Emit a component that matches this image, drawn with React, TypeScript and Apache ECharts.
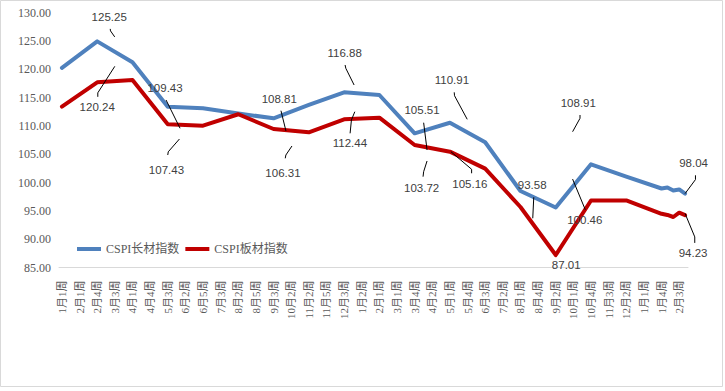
import React, { useEffect, useRef } from "react";
import * as echarts from "echarts";

// weekly categories (labels shown every 3rd week)
const weeks: string[] = [
  "1月1周", "1月2周", "1月3周", "2月1周", "2月2周", "2月3周", "2月4周", "3月1周", "3月2周", "3月3周",
  "3月4周", "3月5周", "4月1周", "4月2周", "4月3周", "4月4周", "5月1周", "5月2周", "5月3周", "5月4周",
  "6月1周", "6月2周", "6月3周", "6月4周", "6月5周", "7月1周", "7月2周", "7月3周", "7月4周", "8月1周",
  "8月2周", "8月3周", "8月4周", "8月5周", "9月1周", "9月2周", "9月3周", "9月4周", "10月1周", "10月2周",
  "10月3周", "11月1周", "11月2周", "11月3周", "11月4周", "11月5周", "12月1周", "12月2周", "12月3周", "12月4周",
  "1月1周", "1月2周", "1月3周", "1月4周", "2月1周", "2月2周", "2月3周", "3月1周", "3月2周", "3月3周",
  "3月4周", "3月5周", "4月1周", "4月2周", "4月3周", "4月4周", "5月1周", "5月2周", "5月3周", "5月4周",
  "6月1周", "6月2周", "6月3周", "6月4周", "7月1周", "7月2周", "7月3周", "7月4周", "8月1周", "8月2周",
  "8月3周", "8月4周", "8月5周", "9月1周", "9月2周", "9月3周", "9月4周", "10月1周", "10月2周", "10月3周",
  "10月4周", "11月1周", "11月2周", "11月3周", "11月4周", "12月1周", "12月2周", "12月3周", "12月4周", "1月1周",
  "1月2周", "1月3周", "1月4周", "2月1周", "2月2周", "2月3周", "2月4周",
];

// [week index, value]
const longSteel: [number, number][] = [
  [0, 120.24], [6, 124.9], [12, 121.21], [18, 113.38], [24, 113.1], [30, 112.18],
  [36, 111.33], [42, 113.68], [48, 115.92], [54, 115.44], [60, 108.68], [66, 110.55],
  [72, 107.1], [78, 98.5], [84, 95.59], [90, 103.21], [96, 101.03], [102, 98.94],
  [103, 99.12], [104, 98.59], [105, 98.77], [106, 98.04],
];

const plateSteel: [number, number][] = [
  [0, 113.38], [6, 117.68], [12, 118.09], [18, 110.27], [24, 110.02], [30, 112.04],
  [36, 109.44], [42, 108.86], [48, 111.15], [54, 111.44], [60, 106.62], [66, 105.44],
  [72, 102.44], [78, 95.68], [84, 87.2], [90, 96.83], [96, 96.83], [102, 94.48],
  [103, 94.27], [104, 93.91], [105, 94.67], [106, 94.23],
];

const seriesNames = ["CSPI长材指数", "CSPI板材指数"];
const yMin = 85;
const yMax = 130;
const yStep = 5;

// annotation texts attached to a vertex (series, week index)
const annotationTexts: { s: number; at: number; text: string }[] = [
  { s: 0, at: 6, text: "125.25" },
  { s: 1, at: 6, text: "120.24" },
  { s: 0, at: 18, text: "109.43" },
  { s: 1, at: 18, text: "107.43" },
  { s: 0, at: 36, text: "108.81" },
  { s: 1, at: 36, text: "106.31" },
  { s: 0, at: 48, text: "116.88" },
  { s: 1, at: 48, text: "112.44" },
  { s: 0, at: 60, text: "105.51" },
  { s: 1, at: 60, text: "103.72" },
  { s: 0, at: 66, text: "110.91" },
  { s: 1, at: 66, text: "105.16" },
  { s: 1, at: 78, text: "93.58" },
  { s: 1, at: 84, text: "87.01" },
  { s: 0, at: 90, text: "108.91" },
  { s: 1, at: 90, text: "100.46" },
  { s: 0, at: 106, text: "98.04" },
  { s: 1, at: 106, text: "94.23" },
];

// label offsets and leader lines (pixels, relative to the vertex), same order
const annotationLayout: { d: [number, number]; line?: [number, number][] }[] = [
  { d: [12, -24], line: [[13, -12.5], [13.3, -10.5], [17.5, -4.5]] },
  { d: [0, 25], line: [[0.6, 14.5], [0.6, 10.5], [17.6, -16]] },
  { d: [-2.7, -18.7], line: [[-1.7, -6.7], [12.3, 21.6]] },
  { d: [-1.3, 45.7], line: [[0, 30.7], [0.5, 27.5], [11.7, 14.7]] },
  { d: [5.7, -19.6], line: [[7.4, -7.6], [12.4, 12.7]] },
  { d: [9.4, 43.8], line: [[11.7, 29.3], [12.3, 26], [18.4, 17]] },
  { d: [0.5, -39.5], line: [[1, -27.3], [1.7, -24], [10, -7.3]] },
  { d: [5.8, 24], line: [[6, 14], [7.3, 0.7], [10.7, -7.6]] },
  { d: [7.4, -23.3], line: [[9, -10.6], [12.4, 16.7]] },
  { d: [7, 43], line: [[8.4, 31.7], [9, 26.7], [12.4, 16]] },
  { d: [2, -42.7], line: [[4.3, -30.4], [4.6, -27], [17.3, -3.4]] },
  { d: [20, 32.3], line: [[21.7, 21.6], [21.7, 17.6], [1, 0]] },
  { d: [11.7, -22], line: [[13.3, -9.7], [12.3, 11.3]] },
  { d: [10.5, 9.5] },
  { d: [-12.7, -61], line: [[-11, -49.3], [-11, -46], [-18.4, -32.6]] },
  { d: [-6.2, 19.3], line: [[-5.7, 9.3], [-18.4, -21.4]] },
  { d: [8.5, -31], line: [[10.4, -18.3], [10.4, -14], [0, 0]] },
  { d: [8, 37.8], line: [[9.7, 27.7], [9.7, 21.7], [0, -1.7]] },
];

const COLORS = ["#4F81BD", "#C00000"];
const SERIF = '"Liberation Serif", "Times New Roman", "Noto Sans CJK SC", serif';
const SANS = '"Liberation Sans", Arial, sans-serif';

export default function App() {
  const ref = useRef<HTMLDivElement>(null);

  useEffect(() => {
    if (!ref.current) return;
    const chart = echarts.init(ref.current, null, { renderer: "svg" });
    const seriesData = [longSteel, plateSteel];

    chart.setOption({
      animation: false,
      backgroundColor: "#fff",
      grid: { left: 59, right: 37, top: 12.5, bottom: 123.5, containLabel: false },
      legend: {
        left: 72,
        top: 238,
        icon: "rect",
        itemWidth: 24,
        itemHeight: 4,
        itemGap: 6,
        data: seriesNames.map((n, i) => ({ name: n, itemStyle: { color: COLORS[i] } })),
        textStyle: { fontSize: 12, color: "#595959", fontFamily: SERIF },
      },
      xAxis: {
        type: "category",
        data: weeks,
        boundaryGap: true,
        axisLine: { show: true, lineStyle: { color: "#D9D9D9", width: 1 } },
        axisTick: { show: false },
        splitLine: { show: false },
        axisLabel: {
          interval: 2,
          rotate: 90,
          margin: 13,
          fontSize: 11,
          color: "#595959",
          fontFamily: SERIF,
        },
      },
      yAxis: {
        type: "value",
        min: yMin,
        max: yMax,
        interval: yStep,
        axisLine: { show: false },
        axisTick: { show: false },
        splitLine: { show: false },
        axisLabel: {
          margin: 8,
          fontSize: 12,
          color: "#595959",
          fontFamily: SERIF,
          formatter: (v: number) => v.toFixed(2),
        },
      },
      series: seriesNames.map((name, i) => ({
        name,
        type: "line",
        data: seriesData[i],
        showSymbol: false,
        symbol: "none",
        lineStyle: { color: COLORS[i], width: 4, cap: "round", join: "round" },
        itemStyle: { color: COLORS[i] },
        z: 2 + i,
      })),
    });

    const graphics: any[] = [
      {
        type: "rect",
        silent: true,
        shape: { x: 0.5, y: 0.5, width: 722, height: 386 },
        style: { fill: "none", stroke: "#D9D9D9", lineWidth: 1 },
        z: 0,
      },
    ];

    annotationTexts.forEach((a, k) => {
      const src = seriesData[a.s];
      const pt = src.find((p) => p[0] === a.at);
      if (!pt) return;
      const pix = chart.convertToPixel({ gridIndex: 0 }, [pt[0], pt[1]]) as number[];
      const lay = annotationLayout[k];
      graphics.push({
        type: "text",
        silent: true,
        x: pix[0] + lay.d[0],
        y: pix[1] + lay.d[1],
        z: 10,
        style: {
          text: a.text,
          align: "center",
          verticalAlign: "middle",
          fill: "#404040",
          fontSize: 11.5,
          fontFamily: SANS,
        },
      });
      if (lay.line) {
        graphics.push({
          type: "polyline",
          silent: true,
          z: 10,
          shape: { points: lay.line.map(([dx, dy]) => [pix[0] + dx, pix[1] + dy]) },
          style: { stroke: "#000", lineWidth: 1, fill: null },
        });
      }
    });

    chart.setOption({ graphic: graphics });

    return () => chart.dispose();
  }, []);

  return (
    <div
      ref={ref}
      style={{ position: "fixed", left: 0, top: 0, width: 725, height: 391, background: "#fff" }}
    />
  );
}
